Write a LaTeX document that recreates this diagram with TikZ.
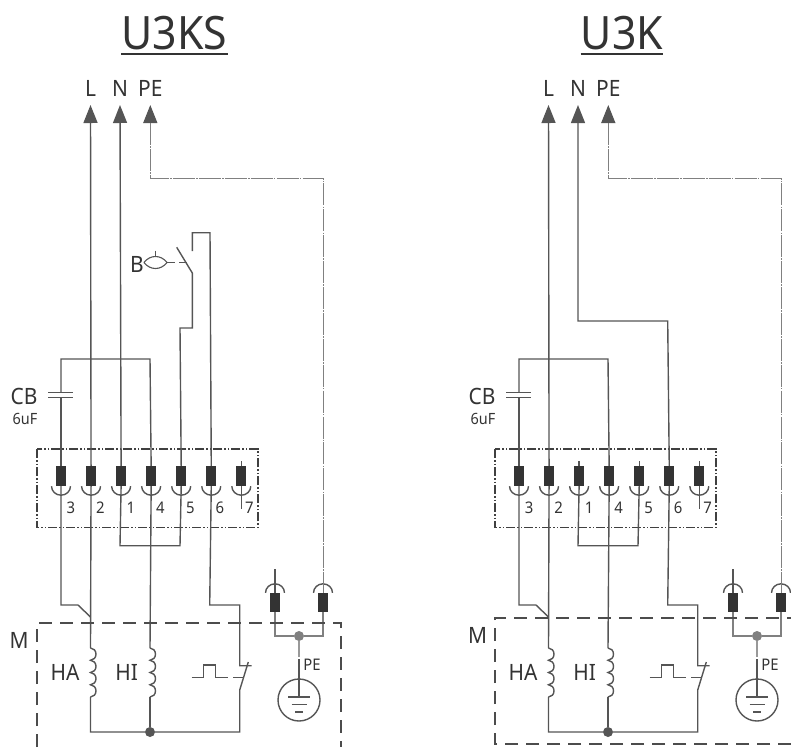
\documentclass[tikz,border=0pt]{standalone}
\usepackage{fontspec}
\setmainfont[FakeStretch=0.93]{Noto Sans}
\usetikzlibrary{positioning, arrows.meta}
\definecolor{wirecol}{HTML}{555555}
\definecolor{textcol}{HTML}{333333}
\newcommand{\termrow}{%
  \node[term] (t3) at (61,476) {};
  \node[term] (t2) [right=19.65pt of t3] {};
  \node[term] (t1) [right=19.65pt of t2] {};
  \node[term] (t4) [right=19.65pt of t1] {};
  \node[term] (t5) [right=19.65pt of t4] {};
  \node[term] (t6) [right=19.65pt of t5] {};
  \node[term] (t7) [right=19.65pt of t6] {};
  \foreach \t in {t3,t2,t1,t4,t5,t6,t7}
    \draw[wire] (\t.south) +(-9.5,0) arc[start angle=180,end angle=360,x radius=9.5pt,y radius=9pt];
  \node[num] (n3) at (71,508) {3};
  \node[num] (n2) at (100.5,508) {2};
  \node[num] (n1) at (131,508) {1};
  \node[num] (n4) at (160.5,508) {4};
  \node[num] (n5) at (190.5,508) {5};
  \node[num] (n6) at (220,508) {6};
  \node[num] (n7) at (249.5,508) {7};
  \coordinate (boxa) at (37,449);
  \coordinate (boxb) at (258,527.7);
  \draw[termbox] (boxa) rectangle (boxb);
  \draw[wire] (t7.north) -- ++(0,-5);
  \draw[wire] (t7.south) -- ++(0,23);
  % jumper
  \coordinate (ja) at (120,545.7);
  \coordinate (jb) at (180,545.7);
  \draw[wire] (t1.south) -- (ja) -- (jb) -- (t5.south);
}
\newcommand{\motorpart}{%
  \coordinate (topHA) at (90.5,648);
  \coordinate (topHI) at (150,648);
  \coordinate (botHA) at (90.5,697);
  \coordinate (botHI) at (150,697);
  \coordinate (kink3) at (61,605);
  \coordinate (kink3b) at (78,605);
  \coordinate (kink2) at (90.5,617);
  \coordinate (kink6) at (209.7,605);
  \coordinate (sw) at (239.7,605);
  \coordinate (swa) at (239.7,665.7);
  \coordinate (swb) at (251.7,665.7);
  \coordinate (swc) at (248.3,662);
  \coordinate (swd) at (239.7,690);
  \coordinate (bl) at (90.5,732);
  \coordinate (br) at (239.7,732);
  \node[jdot] (j1) at (150,732) {};
  \draw[wire] (t3.south) -- (kink3) -- (kink3b) -- (kink2);
  \draw[wire] (t2.south) -- (topHA);
  \draw[wire] (t4.south) -- (topHI);
  \draw[wire] (t6.south) -- (kink6) -- (sw) -- (swa) -- (swb);
  \draw[wire] (swc) -- (swd) -- (br) -- (j1) -- (bl) -- (botHA);
  \draw[wire] (j1) -- (botHI);
  \foreach \c in {topHA,topHI}
    \draw[wire] (\c) arc[start angle=90,end angle=-90,x radius=5.5pt,y radius=6.125pt]
      arc[start angle=90,end angle=-90,x radius=5.5pt,y radius=6.125pt]
      arc[start angle=90,end angle=-90,x radius=5.5pt,y radius=6.125pt]
      arc[start angle=90,end angle=-90,x radius=5.5pt,y radius=6.125pt];
  \node[lbl] (HA) at (65,672.7) {HA};
  \node[lbl] (HI) at (126.7,672.7) {HI};
  % pulse
  \coordinate (pa) at (191.7,677.3);
  \coordinate (pb) at (203.3,677.3);
  \coordinate (pc) at (203.3,665);
  \coordinate (pd) at (215.7,665);
  \coordinate (pe) at (215.7,677.3);
  \coordinate (pf) at (228,677.3);
  \coordinate (pg) at (233.3,677.3);
  \coordinate (ph) at (243,677.3);
  \draw[wire] (pa) -- (pb) -- (pc) -- (pd) -- (pe) -- (pf);
  \draw[wire] (pg) -- (ph);
  % earth
  \node[term,minimum height=19pt] (e1) at (275,602.5) {};
  \node[term,minimum height=19pt] (e2) at (323,602.5) {};
  \foreach \t in {e1,e2}
    \draw[wire] (\t.north) +(-9.5,0) arc[start angle=180,end angle=0,x radius=9.5pt,y radius=9pt];
  \coordinate (e1a) at (275,636);
  \coordinate (e2a) at (323,636);
  \coordinate (e1top) at (275,569);
  \node[gdot] (j2) at (299,636) {};
  \draw[wire] (e1.north) -- (e1top);
  \draw[wire,draw=gray] (e1.south) -- (e1a) -- (j2);
  \draw[wire,draw=gray] (e2.south) -- (e2a) -- (j2);
  \node[earth] (gnd) at (299,700) {};
  \coordinate (g1) at (299,697);
  \draw[wire,draw=gray!80] (j2) -- (299,657);
  \draw[wire] (299,659) -- (g1);
  \draw[wire] (288,697) -- (310,697);
  \draw[wire] (291.5,704.7) -- (306.5,704.7);
  \draw[wire] (295,712) -- (303,712);
  \node[small] (PEg) at (312,665) {PE};
}
\newcommand{\capacitor}{%
  \coordinate (loopa) at (61,359);
  \coordinate (loopb) at (150,359);
  \coordinate (capa) at (61,392.7);
  \coordinate (capb) at (61,397.7);
  \draw[wire] (t4.north) -- (loopb) -- (loopa) -- (capa);
  \draw[wire] (t3.north) -- (capb);
  \draw[wire] (48,392.7) -- (73.3,392.7);
  \draw[wire] (48,397.7) -- (73.3,397.7);
  \node[lbl] (CB) at (24,396) {CB};
  \node[tiny6] (uf) at (25,419) {6uF};
}
\begin{document}
\begin{tikzpicture}[x=1pt,y=-1pt,
                  wire/.style={draw=wirecol,line width=1.4pt},
                  arrowwire/.style={wire,-{Triangle[length=18pt,width=14pt]}},
                  term/.style={rectangle,draw=none,fill=black!80,inner sep=0pt,
                    minimum width=10pt,minimum height=20pt},
                  termbox/.style={draw=black!75,line width=1.2pt,
                    dash pattern=on 9pt off 2pt on 1.5pt off 2pt on 1.5pt off 2pt},
                  mbox/.style={draw=black!70,line width=1.2pt,dash pattern=on 13pt off 8pt},
                  pewire/.style={draw=black!50,line width=1pt,
                    dash pattern=on 22pt off 1.2pt on 1.5pt off 1.2pt},
                  jdot/.style={circle,fill=wirecol,inner sep=0pt,minimum size=10pt},
                  gdot/.style={circle,fill=gray,inner sep=0pt,minimum size=10pt},
                  earth/.style={circle,draw=wirecol,line width=1.4pt,inner sep=0pt,minimum size=42pt},
                  num/.style={text=textcol,inner sep=0pt,font=\fontsize{16}{16}\selectfont},
                  lbl/.style={text=textcol,inner sep=0pt,font=\fontsize{22.5}{22.5}\selectfont},
                  small/.style={text=textcol,inner sep=0pt,font=\fontsize{16}{16}\selectfont},
                  tiny6/.style={text=textcol,inner sep=0pt,font=\fontsize{15.5}{15.5}\selectfont},
                  title/.style={text=textcol,inner sep=0pt,font=\fontsize{46}{46}\selectfont},
                  titleline/.style={draw=textcol,line width=2.7pt}
                  ]
  \useasboundingbox (0,0) rectangle (791,747);

  \node[title] (U3KS) at (174.5,33.5) {U3KS};
  \node[title] (U3K) at (622,33.5) {U3K};
  \draw[titleline] ([yshift=-3.5pt]U3KS.south west) -- ([yshift=-3.5pt]U3KS.south east);
  \draw[titleline] ([yshift=-3.5pt]U3K.south west) -- ([yshift=-3.5pt]U3K.south east);

  % U3KS side
  \begin{scope}[name prefix=a-]
    \termrow
    \motorpart
    \capacitor
    \coordinate (topL) at (90.5,105);
    \coordinate (topN) at (120,105);
    \coordinate (topPE) at (150.3,105);
    \node[lbl] (L) [above=8pt of topL] {L};
    \node[lbl] (N) [above=8pt of topN] {N};
    \node[lbl] (PE) [above=8pt of topPE] {PE};
    \draw[arrowwire] (t2.north) -- (topL);
    \draw[arrowwire] (t1.north) -- (topN);
    \coordinate (pea) at (150.3,178);
    \coordinate (peb) at (323,178);
    \draw[-{Triangle[length=18pt,width=14pt]},wire] (150.3,124) -- (topPE);
    \draw[pewire] (150.3,123) -- (pea) -- (peb) -- (e2.north);
    % room switch
    \coordinate (k5) at (180,328);
    \coordinate (k5b) at (192.3,328);
    \coordinate (k5c) at (192.3,273);
    \coordinate (k5d) at (176.7,247.3);
    \coordinate (k6) at (210,232.7);
    \coordinate (k6b) at (192.3,232.7);
    \coordinate (k6c) at (192.3,251);
    \draw[wire] (t5.north) -- (k5) -- (k5b) -- (k5c) -- (k5d);
    \draw[wire] (t6.north) -- (k6) -- (k6b) -- (k6c);
    \node[lbl] (B) at (137,264) {B};
    \coordinate (ba) at (144,262.5);
    \coordinate (bb) at (167,262.5);
    \draw[wire,line width=1.1pt] (ba) .. controls (150,254.5) and (161,254.5) .. (bb)
      .. controls (161,270.5) and (150,270.5) .. (ba);
    \draw[wire] (155.5,250.7) -- (155.5,256.5);
    \draw[wire] (bb) -- (174.5,262.5);
    \draw[wire] (179,262.5) -- (186.7,262.5);
    % motor box
    \coordinate (m1) at (37,747);
    \coordinate (m2) at (37,623);
    \coordinate (m3) at (341,623);
    \coordinate (m4) at (341,747);
    \draw[mbox] (m1) -- (m2) -- (m3) -- (m4);
    \node[lbl] (M) at (19,640) {M};
  \end{scope}

  % U3K side
  \begin{scope}[shift={(458,0)},name prefix=b-]
    \termrow
    \motorpart
    \capacitor
    \draw[wire] (t1.north) -- ++(0,-5);
    \draw[wire] (t5.north) -- ++(0,-5);
    \coordinate (topL) at (90.5,105);
    \coordinate (topN) at (120,105);
    \coordinate (topPE) at (150.3,105);
    \node[lbl] (L) [above=8pt of topL] {L};
    \node[lbl] (N) [above=8pt of topN] {N};
    \node[lbl] (PE) [above=8pt of topPE] {PE};
    \draw[arrowwire] (t2.north) -- (topL);
    \coordinate (n6) at (209.7,321);
    \coordinate (n6b) at (120,321);
    \draw[arrowwire] (t6.north) -- (n6) -- (n6b) -- (topN);
    \coordinate (pea) at (150.3,178);
    \coordinate (peb) at (323,178);
    \draw[-{Triangle[length=18pt,width=14pt]},wire] (150.3,124) -- (topPE);
    \draw[pewire] (150.3,123) -- (pea) -- (peb) -- (e2.north);
    % motor box
    \coordinate (m1) at (333,744);
    \coordinate (m2) at (37,744);
    \coordinate (m3) at (37,618);
    \coordinate (m4) at (333,618);
    \draw[mbox] (m1) -- (m2) -- (m3) -- (m4);
    \node[lbl] (M) at (19.7,635.7) {M};
  \end{scope}
\end{tikzpicture}
\end{document}
